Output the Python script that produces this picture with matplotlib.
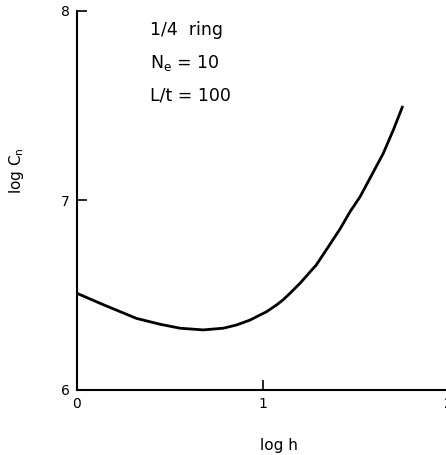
import matplotlib
matplotlib.use("Agg")
import matplotlib.pyplot as plt

plt.rcParams['font.family'] = ['DejaVu Sans']
plt.rcParams['mathtext.default'] = 'regular'

# curve
log_h = [0.0, 0.142, 0.32, 0.447, 0.555, 0.68, 0.789, 0.86, 0.933, 0.987,
         1.022, 1.076, 1.11, 1.148, 1.202, 1.29, 1.355, 1.418, 1.472, 1.526,
         1.589, 1.651, 1.705, 1.756]
log_cn = [6.51, 6.45, 6.378, 6.347, 6.326, 6.317, 6.326, 6.343, 6.369, 6.396,
          6.413, 6.449, 6.475, 6.51, 6.563, 6.66, 6.756, 6.85, 6.941, 7.02,
          7.135, 7.249, 7.372, 7.499]

xticks = [0, 1, 2]
yticks = [6, 7, 8]

fig = plt.figure(figsize=(4.46, 4.55), dpi=100)
ax = fig.add_axes([0.1726, 0.1429, 0.832, 0.833])

ax.plot(log_h, log_cn, color='black', linewidth=2.0,
        solid_joinstyle='round', solid_capstyle='butt')

ax.set_xlim(0, 2)
ax.set_ylim(6, 8)
ax.set_xticks(xticks)
ax.set_yticks(yticks)
ax.set_xticklabels([str(v) for v in xticks], fontsize=10)
ax.set_yticklabels([str(v) for v in yticks], fontsize=10)
ax.tick_params(direction='in', length=7, width=1.2)
ax.tick_params(axis='x', pad=5)
ax.tick_params(axis='y', pad=5)

for s in ['top', 'right']:
    ax.spines[s].set_visible(False)
for s in ['left', 'bottom']:
    ax.spines[s].set_linewidth(1.5)
    ax.spines[s].set_clip_on(False)

ax.set_xlabel('log h', fontsize=11)
ax.xaxis.set_label_coords(0.545, -0.128)
ax.set_ylabel(r'log C$_n$', fontsize=11)
ax.yaxis.set_label_coords(-0.137, 0.58)

ax.text(0.197, 0.95, '1/4  ring', transform=ax.transAxes, fontsize=12.5, va='center')
ax.text(0.197, 0.863, r'N$_e$ = 10', transform=ax.transAxes, fontsize=12.5, va='center')
ax.text(0.197, 0.778, 'L/t = 100', transform=ax.transAxes, fontsize=12.5, va='center')

fig.savefig('out.png', dpi=100)
